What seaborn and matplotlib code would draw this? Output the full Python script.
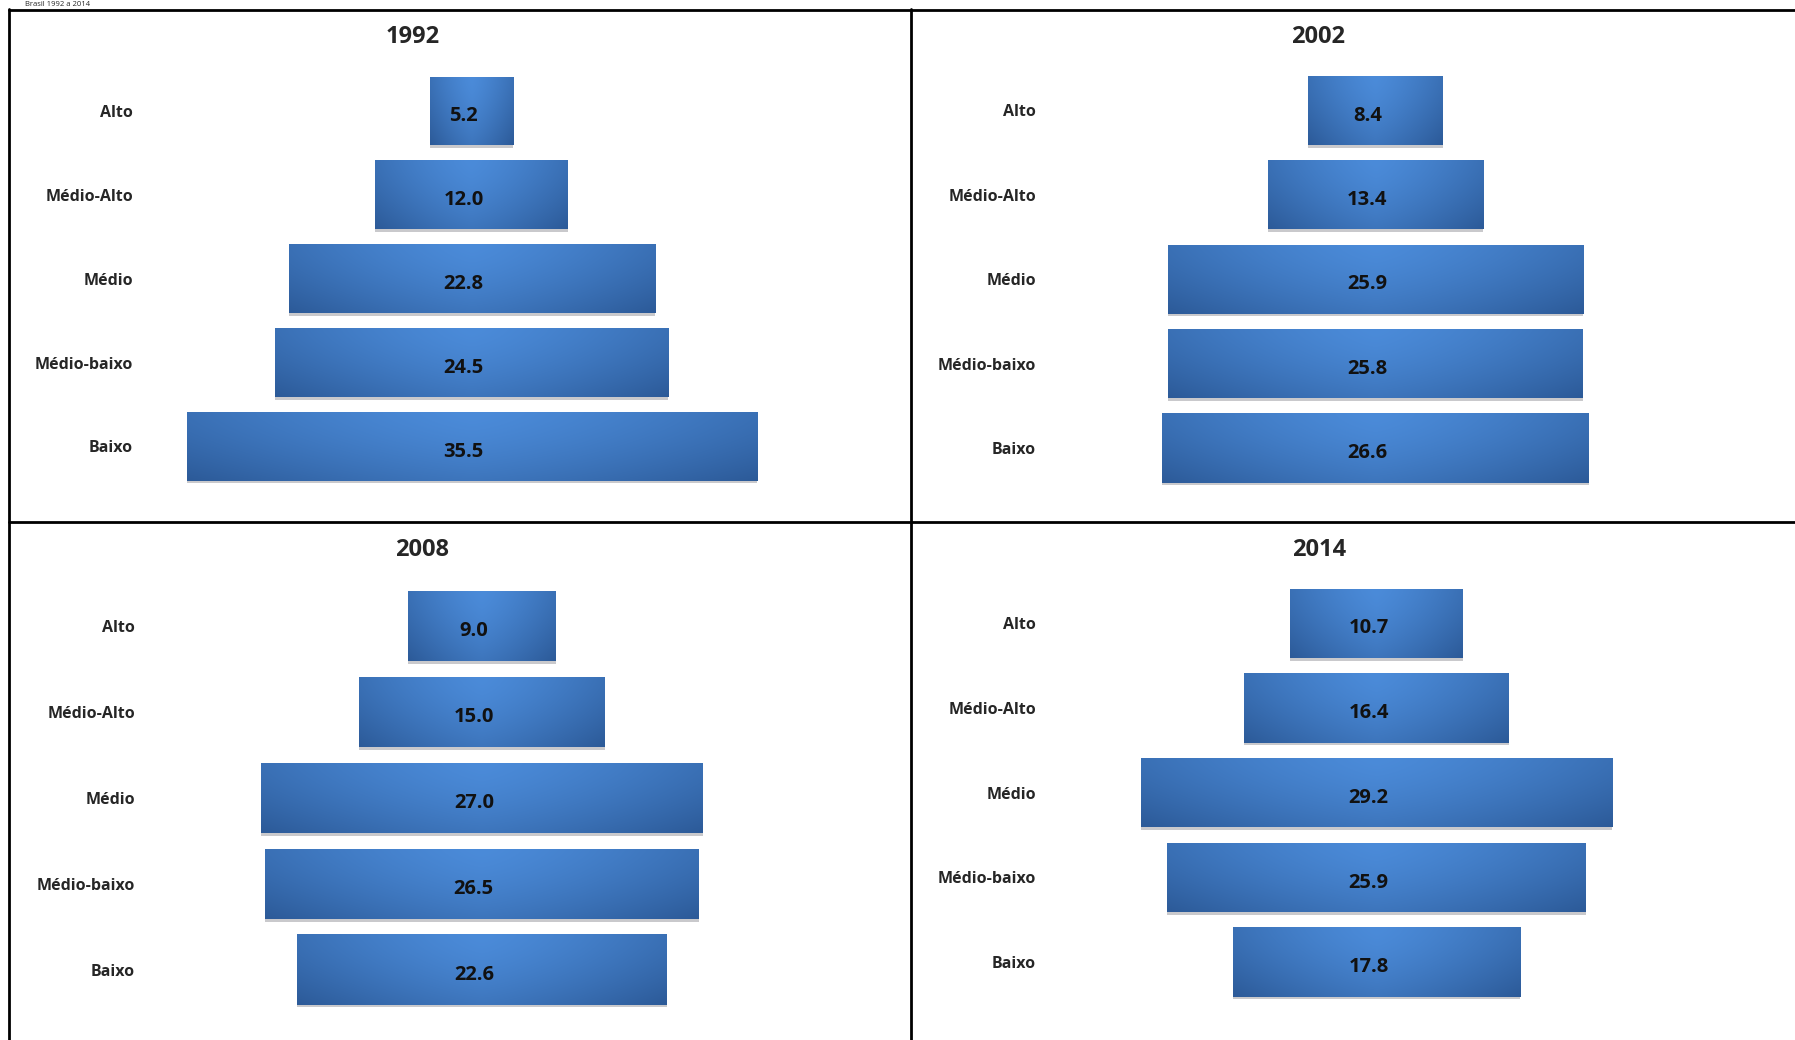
import numpy as np
import pandas as pd
import matplotlib
matplotlib.use('Agg')
import matplotlib.pyplot as plt
from matplotlib.lines import Line2D
from matplotlib.patches import Rectangle
import seaborn as sns

## DATA
categorias = ['Alto', 'Médio-Alto', 'Médio', 'Médio-baixo', 'Baixo']
anos = ['1992', '2002', '2008', '2014']
v1992 = [5.2, 12.0, 22.8, 24.5, 35.5]
v2002 = [8.4, 13.4, 25.9, 25.8, 26.6]
v2008 = [9.0, 15.0, 27.0, 26.5, 22.6]
v2014 = [10.7, 16.4, 29.2, 25.9, 17.8]
valores = [v1992, v2002, v2008, v2014]

## STYLE
sns.set_style('white')
plt.rcParams['font.family'] = ['Open Sans', 'DejaVu Sans']

W, H = 1795, 1040
fig = plt.figure(figsize=(W / 100, H / 100), dpi=100)

#### panel layout in pixels: center x, first/last bar y, label right edge, title pos, px per unit, panel right
paineis = [
    dict(cx=471.7, y0=111.0, y1=446.5, lab=132.0, tx=413.0, ty=36.6, esc=16.06, pr=905),
    dict(cx=1375.5, y0=110.5, y1=448.0, lab=1035.0, tx=1317.7, ty=36.6, esc=16.05, pr=1790),
    dict(cx=482.0, y0=626.2, y1=969.6, lab=134.0, tx=422.4, ty=549.5, esc=16.37, pr=905),
    dict(cx=1376.6, y0=623.3, y1=962.2, lab=1035.0, tx=1318.8, ty=549.5, esc=16.15, pr=1790),
]

#### gradient for bars (lighter in the middle, darker on edges and bottom)
gx = np.linspace(-1, 1, 200)
gy = np.linspace(0, 1, 60)
XX, YY = np.meshgrid(gx, gy)
t = np.clip(0.55 * np.abs(XX) ** 1.3 + 0.45 * YY ** 1.5, 0, 1)
claro = np.array([0x4b, 0x8b, 0xd9]) / 255
escuro = np.array([0x2c, 0x5a, 0x98]) / 255
grad = claro[None, None, :] * (1 - t[..., None]) + escuro[None, None, :] * t[..., None]

for pn, anno, vals in zip(paineis, anos, valores):
    s = (pn['y1'] - pn['y0']) / 4
    top = pn['y0'] - s / 2
    bot = pn['y1'] + s / 2
    left = pn['lab'] + 10
    right = pn['pr']
    ax = fig.add_axes([left / W, 1 - bot / H, (right - left) / W, (bot - top) / H])

    df = pd.DataFrame({'cat': categorias, 'val': vals})
    sns.barplot(data=df, x='val', y='cat', orient='h', width=0.82, color='#3b74be', ax=ax)

    for i, p in enumerate(ax.patches):
        w = p.get_width()
        p.set_x(-w / 2)
        p.set_facecolor('none')
        p.set_edgecolor('none')
        x0, y0 = p.get_x(), p.get_y()
        hh = p.get_height()
        # soft shadow
        ax.add_patch(Rectangle((x0, y0 + 0.03), w, hh, facecolor='#c9c9cc', edgecolor='none', zorder=1))
        im = ax.imshow(grad, extent=[x0, x0 + w, y0 + hh, y0], aspect='auto', zorder=2,
                       interpolation='bilinear')
        im.set_clip_path(p)
        ax.text(-0.5, i + 0.06, f'{vals[i]:.1f}', ha='center', va='center',
                fontsize=14.5, fontweight='bold', color='#111111', zorder=3)

    ax.set_xlim(-(pn['cx'] - left) / pn['esc'], (right - pn['cx']) / pn['esc'])
    ax.set_ylim(4.5, -0.5)
    ax.set_xlabel('')
    ax.set_ylabel('')
    ax.set_xticks([])
    ax.tick_params(axis='y', length=0, pad=6.5, labelsize=11.5)
    for lbl in ax.get_yticklabels():
        lbl.set_fontweight('bold')
    sns.despine(ax=ax, left=True, bottom=True)

    fig.text(pn['tx'] / W, 1 - pn['ty'] / H, anno, ha='center', va='center',
             fontsize=17, fontweight='bold')

#### panel borders
lw = 2.0
def linha(xs, ys):
    fig.add_artist(Line2D([x / W for x in xs], [1 - y / H for y in ys], color='black', lw=lw))

linha([9, W], [9.5, 9.5])
linha([9, W], [522, 522])
linha([9, 9], [9, H])
linha([911, 911], [9, H])

#### small heading above the panels
fig.text(25 / W, 1 - 1 / H, 'Brasil 1992 a 2014', ha='left', va='top', fontsize=5.5)

fig.savefig('out.png', dpi=100)
